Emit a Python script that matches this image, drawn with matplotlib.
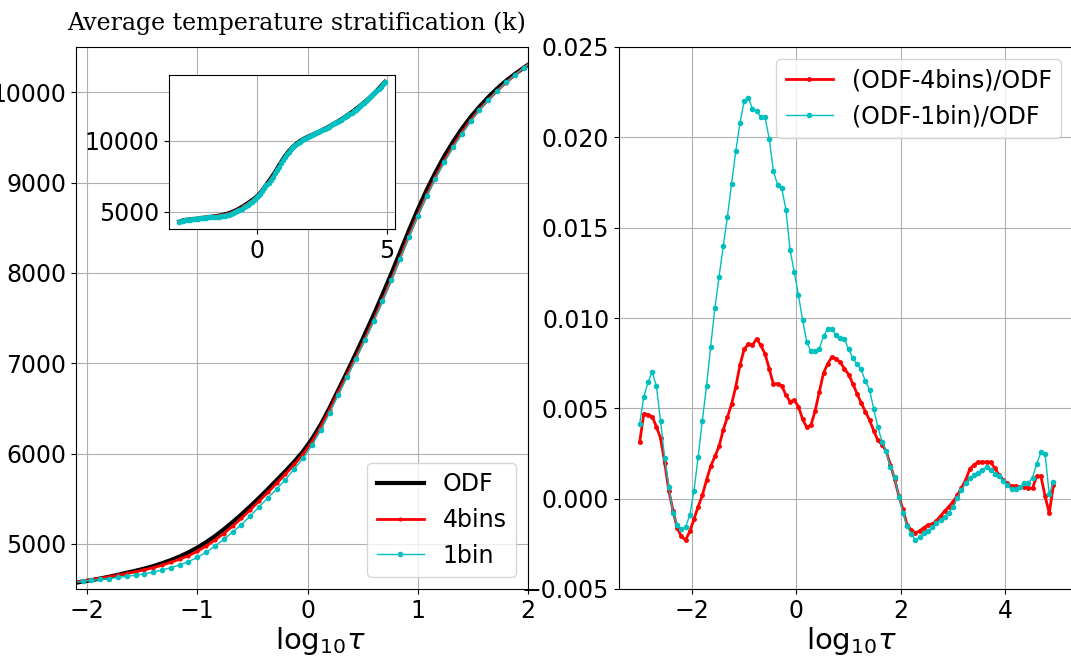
import matplotlib
matplotlib.use('Agg')
import matplotlib.pyplot as plt
from matplotlib.ticker import MultipleLocator
import numpy as np

# --- Data ---
# depth grid, log10(tau)
LOG_TAU = [
    -3.00, -2.92, -2.84, -2.76, -2.68, -2.60, -2.52, -2.44, -2.36, -2.28,
    -2.20, -2.12, -2.04, -1.96, -1.88, -1.80, -1.72, -1.64, -1.56, -1.48,
    -1.40, -1.32, -1.24, -1.16, -1.08, -1.00, -0.92, -0.84, -0.76, -0.68,
    -0.60, -0.52, -0.44, -0.36, -0.28, -0.20, -0.12, -0.04, 0.04, 0.12,
    0.20, 0.28, 0.36, 0.44, 0.52, 0.60, 0.68, 0.76, 0.84, 0.92,
    1.00, 1.08, 1.16, 1.24, 1.32, 1.40, 1.48, 1.56, 1.64, 1.72,
    1.80, 1.88, 1.96, 2.04, 2.12, 2.20, 2.28, 2.36, 2.44, 2.52,
    2.60, 2.68, 2.76, 2.84, 2.92, 3.00, 3.08, 3.16, 3.24, 3.32,
    3.40, 3.48, 3.56, 3.64, 3.72, 3.80, 3.88, 3.96, 4.04, 4.12,
    4.20, 4.28, 4.36, 4.44, 4.52, 4.60, 4.68, 4.76, 4.84, 4.92,
]

# ODF temperature (K)
T_ODF = [
    4300, 4360, 4400, 4425, 4445, 4460, 4475, 4490, 4505, 4520,
    4540, 4565, 4582, 4598, 4616, 4636, 4657, 4680, 4702, 4726,
    4753, 4785, 4820, 4860, 4905, 4958, 5018, 5085, 5160, 5240,
    5325, 5415, 5508, 5605, 5705, 5805, 5910, 6025, 6160, 6320,
    6505, 6705, 6905, 7110, 7320, 7535, 7760, 7990, 8230, 8470,
    8700, 8915, 9110, 9290, 9450, 9595, 9725, 9840, 9945, 10040,
    10125, 10200, 10270, 10335, 10400, 10465, 10530, 10598, 10668, 10740,
    10815, 10890, 10970, 11050, 11135, 11220, 11305, 11395, 11485, 11580,
    11675, 11775, 11875, 11980, 12085, 12195, 12310, 12425, 12545, 12665,
    12790, 12915, 13045, 13180, 13330, 13480, 13630, 13790, 13950, 14110,
]

# (ODF-4bins)/ODF
DIFF_4BINS = [
    0.00311, 0.00471, 0.00465, 0.00454, 0.00399, 0.00335, 0.00198, 0.00042, -0.00068, -0.00163,
    -0.00209, -0.00229, -0.00181, -0.00114, -0.00044, 0.00018, 0.00103, 0.00179, 0.00234, 0.00289,
    0.00381, 0.00451, 0.00524, 0.00619, 0.00738, 0.00826, 0.00857, 0.00850, 0.00885, 0.00848,
    0.00802, 0.00720, 0.00634, 0.00637, 0.00625, 0.00573, 0.00537, 0.00546, 0.00509, 0.00440,
    0.00394, 0.00408, 0.00487, 0.00592, 0.00696, 0.00747, 0.00784, 0.00775, 0.00755, 0.00720,
    0.00687, 0.00637, 0.00582, 0.00531, 0.00482, 0.00436, 0.00377, 0.00322, 0.00299, 0.00262,
    0.00187, 0.00110, 0.00015, -0.00059, -0.00147, -0.00172, -0.00190, -0.00178, -0.00161, -0.00145,
    -0.00141, -0.00123, -0.00095, -0.00068, -0.00044, -0.00016, 0.00018, 0.00060, 0.00103, 0.00165,
    0.00187, 0.00203, 0.00203, 0.00203, 0.00201, 0.00168, 0.00130, 0.00104, 0.00084, 0.00070,
    0.00070, 0.00062, 0.00062, 0.00060, 0.00057, 0.00125, 0.00125, 0.00015, -0.00081, 0.00075,
]

# (ODF-1bin)/ODF
DIFF_1BIN = [
    0.00414, 0.00564, 0.00643, 0.00703, 0.00623, 0.00432, 0.00223, 0.00062, -0.00081, -0.00145,
    -0.00170, -0.00156, -0.00090, 0.00044, 0.00231, 0.00432, 0.00623, 0.00842, 0.01055, 0.01228,
    0.01398, 0.01560, 0.01744, 0.01923, 0.02079, 0.02199, 0.02219, 0.02158, 0.02147, 0.02112,
    0.02112, 0.01993, 0.01814, 0.01737, 0.01718, 0.01600, 0.01376, 0.01254, 0.01125, 0.00987,
    0.00866, 0.00815, 0.00815, 0.00830, 0.00900, 0.00940, 0.00940, 0.00905, 0.00890, 0.00885,
    0.00826, 0.00780, 0.00744, 0.00716, 0.00650, 0.00604, 0.00496, 0.00396, 0.00315, 0.00262,
    0.00174, 0.00121, 0.00011, -0.00077, -0.00154, -0.00196, -0.00229, -0.00214, -0.00190, -0.00178,
    -0.00159, -0.00136, -0.00117, -0.00099, -0.00077, -0.00046, 0.00005, 0.00046, 0.00088, 0.00112,
    0.00130, 0.00143, 0.00161, 0.00174, 0.00158, 0.00137, 0.00125, 0.00097, 0.00075, 0.00051,
    0.00051, 0.00066, 0.00086, 0.00088, 0.00115, 0.00194, 0.00256, 0.00249, 0.00024, 0.00092,
]

x = np.array(LOG_TAU)
t_odf = np.array(T_ODF, dtype=float)
d4 = np.array(DIFF_4BINS)
d1 = np.array(DIFF_1BIN)
# the two binned runs follow from the relative differences
t_4bins = t_odf * (1 - d4)
t_1bin = t_odf * (1 - d1)

plt.rcParams['font.size'] = 17

W, H = 1071, 661
fig = plt.figure(figsize=(W / 100, H / 100), dpi=100)


def px_box(left, top, right, bottom):
    return [left / W, 1 - bottom / H, (right - left) / W, (bottom - top) / H]


def draw_temps(ax):
    ax.plot(x, t_odf, color='k', lw=3, marker='.', ms=2, label='ODF')
    ax.plot(x, t_4bins, color='red', lw=2, marker='.', ms=4, label='4bins')
    ax.plot(x, t_1bin, color='c', lw=1, marker='.', ms=6, label='1bin')


XLABEL = r'$\mathrm{log}_{10}\tau$'

# --- Left: temperature ---
ax1 = fig.add_axes(px_box(76, 47, 528, 589))
draw_temps(ax1)
ax1.set_xlim(-2.1, 2.0)
ax1.set_ylim(4500, 10500)
ax1.xaxis.set_major_locator(MultipleLocator(1))
ax1.yaxis.set_major_locator(MultipleLocator(1000))
ax1.grid(True)
ax1.legend(loc='lower right', fontsize=17)
ax1.set_xlabel(XLABEL, fontsize=21)
ax1.xaxis.set_label_coords(0.54, -0.066)
ax1.set_title('Average temperature stratification (k)', family='DejaVu Serif',
              fontsize=17.1, pad=12, x=0.488)

# inset with the full depth range
axin = fig.add_axes(px_box(169, 75, 395, 229))
draw_temps(axin)
axin.xaxis.set_major_locator(MultipleLocator(5))
axin.yaxis.set_major_locator(MultipleLocator(5000))
axin.grid(True)

# --- Right: relative differences ---
ax2 = fig.add_axes(px_box(619, 47, 1073, 589))
ax2.plot(x, d4, color='red', lw=2, marker='.', ms=5, label='(ODF-4bins)/ODF')
ax2.plot(x, d1, color='c', lw=1, marker='.', ms=6, label='(ODF-1bin)/ODF')
ax2.set_xlim(-3.395, 5.295)
ax2.set_ylim(-0.005, 0.025)
ax2.xaxis.set_major_locator(MultipleLocator(2))
ax2.yaxis.set_major_locator(MultipleLocator(0.005))
ax2.grid(True)
ax2.legend(loc='upper right', fontsize=17)
ax2.set_xlabel(XLABEL, fontsize=21)
ax2.xaxis.set_label_coords(0.512, -0.066)

fig.savefig('out.png', dpi=100)
